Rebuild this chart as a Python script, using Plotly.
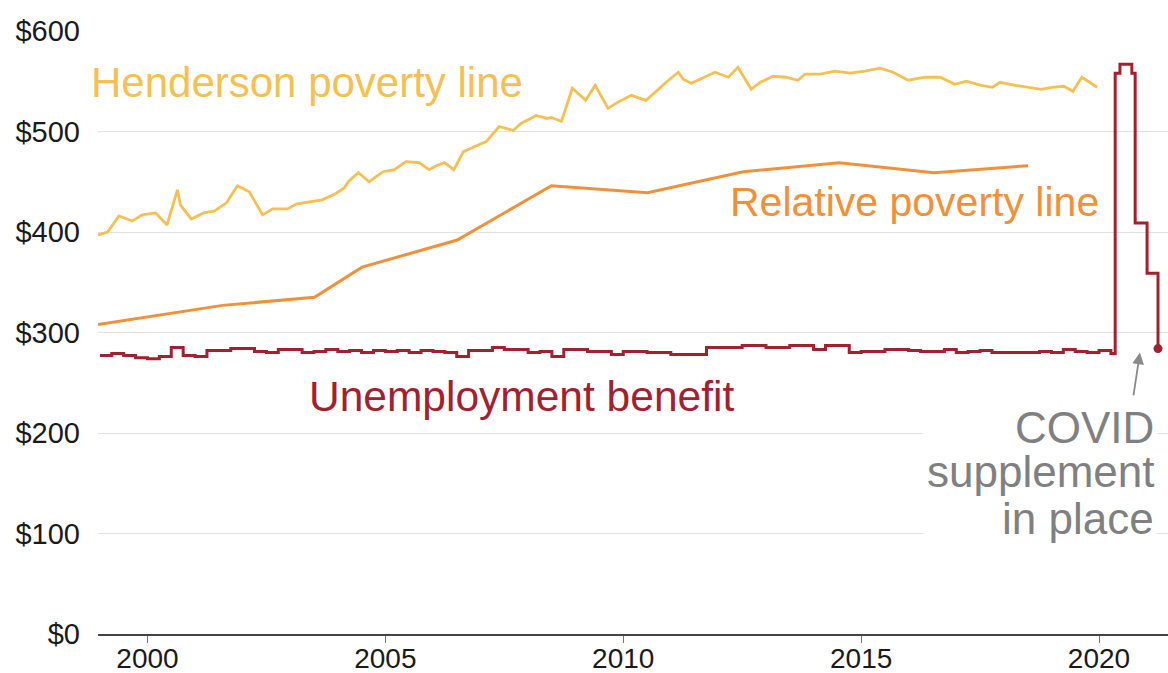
import plotly.graph_objects as go

# ---------------- data ----------------
hend_years = [1998.96, 1999.16, 1999.40, 1999.68, 1999.89, 2000.17, 2000.41, 2000.63, 2000.69, 2000.92,
              2001.18, 2001.41, 2001.66, 2001.89, 2002.14, 2002.42, 2002.63, 2002.94, 2003.14, 2003.42,
              2003.67, 2003.95, 2004.14, 2004.22, 2004.43, 2004.66, 2004.95, 2005.19, 2005.43, 2005.71,
              2005.92, 2006.07, 2006.24, 2006.44, 2006.64, 2006.88, 2007.12, 2007.39, 2007.69, 2007.85,
              2008.17, 2008.40, 2008.49, 2008.70, 2008.73, 2008.93, 2009.21, 2009.41, 2009.68, 2009.88,
              2010.17, 2010.48, 2010.67, 2010.90, 2011.16, 2011.26, 2011.43, 2011.70, 2011.93, 2012.21,
              2012.41, 2012.69, 2012.88, 2013.15, 2013.42, 2013.67, 2013.82, 2014.14, 2014.45, 2014.77,
              2015.08, 2015.40, 2015.67, 2015.99, 2016.34, 2016.66, 2016.97, 2017.21, 2017.52, 2017.76,
              2017.92, 2018.24, 2018.55, 2018.78, 2019.01, 2019.26, 2019.45, 2019.64, 2019.96]
hend_values = [397, 400, 416, 411, 417, 419, 407, 442, 427, 413,
               419, 421, 429, 446, 440, 417, 423, 423, 428, 430,
               432, 438, 444, 450, 459, 450, 460, 462, 470, 469,
               462, 466, 469, 462, 480, 485, 490, 505, 501, 508,
               516, 513, 514, 510, 514, 543, 531, 546, 523, 529,
               536, 531, 539, 549, 559, 552, 548, 554, 559, 554,
               564, 542, 549, 555, 554, 551, 557, 557, 560, 558,
               560, 563, 559, 551, 554, 554, 547, 550, 546, 544,
               549, 546, 544, 542, 544, 545, 540, 554, 544]

rel_years = [1998.96, 2001.58, 2003.51, 2004.51, 2006.51, 2008.49, 2010.51, 2012.52, 2014.54, 2016.53, 2018.51]
rel_values = [308, 327, 335, 365, 392, 446, 439, 460, 469, 459, 466]

# unemployment benefit: quarterly steps 1999.00 - 2020.25, then COVID supplement steps
ub_quarterly = [277, 279, 277, 275,
                274, 276, 285, 277,
                276, 282, 282, 284,
                284, 281, 280, 283,
                283, 280, 281, 283,
                281, 282, 280, 282,
                281, 282, 280, 282,
                281, 280, 276, 282,
                282, 285, 283, 283,
                280, 281, 276, 283,
                283, 281, 281, 278,
                281, 281, 280, 280,
                278, 278, 278, 285,
                285, 285, 287, 287,
                285, 285, 287, 287,
                283, 287, 287, 280,
                281, 281, 283, 283,
                282, 281, 281, 283,
                280, 281, 282, 280,
                280, 280, 280, 281,
                280, 283, 281, 280,
                282, 279]
ub_start_year = 1999.0
covid_years = [2020.34, 2020.44, 2020.69, 2020.76, 2021.01, 2021.24]
covid_values = [558, 567, 558, 409, 359, 284]

tick_years = [2000, 2005, 2010, 2015, 2020]
tick_labels = ["2000", "2005", "2010", "2015", "2020"]
y_ticks = [0, 100, 200, 300, 400, 500, 600]
y_tick_labels = ["$0", "$100", "$200", "$300", "$400", "$500", "$600"]

# ---------------- styling ----------------
FONT = "Liberation Sans, Arial, Helvetica, sans-serif"
C_HEND = "#F5BF52"
C_REL = "#F0913A"
C_UB = "#A3202E"
C_GREY = "#808080"

ub_years = [ub_start_year + 0.25 * i for i in range(len(ub_quarterly))] + covid_years
ub_values = ub_quarterly + covid_values

fig = go.Figure()
fig.add_trace(go.Scatter(x=hend_years, y=hend_values, mode="lines",
                         line=dict(color=C_HEND, width=2.8), hoverinfo="skip"))
fig.add_trace(go.Scatter(x=rel_years, y=rel_values, mode="lines",
                         line=dict(color=C_REL, width=3), hoverinfo="skip"))
fig.add_trace(go.Scatter(x=ub_years, y=ub_values, mode="lines",
                         line=dict(color=C_UB, width=3, shape="hv"), hoverinfo="skip"))
fig.add_trace(go.Scatter(x=[ub_years[-1]], y=[ub_values[-1]], mode="markers",
                         marker=dict(color=C_UB, size=9), hoverinfo="skip", cliponaxis=False))

# white box behind the COVID note
fig.add_shape(type="rect", xref="x", yref="y", x0=2016.30, x1=2021.22, y0=84, y1=228,
              fillcolor="white", line=dict(width=0), layer="above")

ann = [
    dict(text="Henderson poverty line", x=2003.35, y=549, color=C_HEND, size=42, xanchor="center"),
    dict(text="Relative poverty line", x=2016.12, y=430, color=C_REL, size=41, xanchor="center"),
    dict(text="Unemployment benefit", x=2007.86, y=236, color=C_UB, size=42.5, xanchor="center"),
    dict(text="COVID", x=2021.2, y=205, color=C_GREY, size=44, xanchor="right"),
    dict(text="supplement", x=2021.2, y=162, color=C_GREY, size=44, xanchor="right"),
    dict(text="in place", x=2021.2, y=115, color=C_GREY, size=44, xanchor="right"),
]
for a in ann:
    fig.add_annotation(x=a["x"], y=a["y"], xref="x", yref="y", text=a["text"], showarrow=False,
                       xanchor=a["xanchor"], yanchor="middle",
                       font=dict(family=FONT, size=a["size"], color=a["color"]))

# arrow
fig.add_annotation(x=2020.86, y=280, ax=2020.72, ay=236, xref="x", yref="y", axref="x", ayref="y",
                   text="", showarrow=True, arrowhead=2, arrowsize=1.3, arrowwidth=1.8,
                   arrowcolor="#8a8a8a", standoff=0)

fig.update_layout(
    width=1168, height=673,
    margin=dict(l=98, r=0, t=30, b=39),
    paper_bgcolor="white", plot_bgcolor="white",
    showlegend=False,
    font=dict(family=FONT, color="#1a1a1a"),
)
fig.update_xaxes(range=[1998.96, 2021.45], tickvals=tick_years, ticktext=tick_labels,
                 showgrid=False, zeroline=False, showline=True, linecolor="#444", linewidth=1.5,
                 ticks="outside", ticklen=7, tickcolor="#777", tickwidth=1, automargin=False,
                 ticklabelstandoff=-8,
                 tickfont=dict(family=FONT, size=28, color="#1a1a1a"))
fig.update_yaxes(range=[0, 601], tickvals=y_ticks, ticktext=y_tick_labels,
                 showgrid=True, gridcolor="#e2e2e2", gridwidth=1, zeroline=False, showline=False,
                 ticks="", ticklabelstandoff=17, automargin=False,
                 tickfont=dict(family=FONT, size=29, color="#1a1a1a"))

fig.write_html("out.html", config={"displayModeBar": False},
               post_script="document.body.style.margin='0';document.body.style.overflow='hidden';")
